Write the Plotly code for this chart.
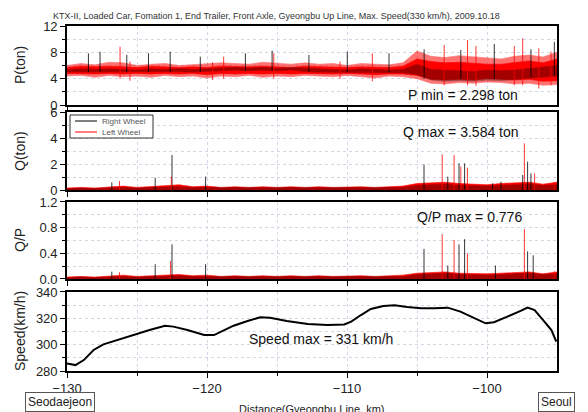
import plotly.graph_objects as go

# ---------------- data ----------------
KM = [-130, -129, -128, -127, -126, -125, -124, -123, -122, -121, -120, -119,
      -118, -117, -116, -115, -114, -113, -112, -111, -110, -109, -108, -107,
      -106, -105, -104, -103, -102, -101, -100, -99, -98, -97, -96, -95]

# P (ton) left wheel: outer and dense-core envelopes
P_LEFT_HI = [6.0, 6.3, 6.1, 6.5, 6.4, 6.0, 6.2, 6.3, 6.0, 6.1, 6.2, 6.4,
             6.3, 6.2, 6.5, 6.3, 6.2, 6.4, 6.2, 6.3, 6.0, 6.3, 6.2, 6.1,
             6.4, 8.2, 7.4, 7.2, 7.5, 7.3, 7.1, 7.0, 7.4, 7.6, 7.3, 8.0]
P_LEFT_LO = [4.4, 4.5, 4.2, 4.5, 4.3, 4.4, 4.2, 4.5, 4.3, 4.4, 4.1, 4.4,
             4.3, 4.5, 4.2, 4.4, 4.3, 4.5, 4.4, 4.3, 4.5, 4.3, 4.1, 4.4,
             4.3, 4.0, 3.3, 3.2, 3.4, 3.3, 3.5, 3.4, 3.2, 3.3, 3.0, 3.1]
P_LEFT_CORE_HI = [5.7, 5.9, 5.8, 5.9, 5.8, 5.7, 5.9, 5.8, 5.7, 5.8, 5.7, 5.9,
                  5.8, 5.8, 5.9, 5.8, 5.7, 5.9, 5.8, 5.7, 5.7, 5.8, 5.7, 5.7,
                  5.9, 7.0, 6.6, 6.4, 6.5, 6.3, 6.2, 6.2, 6.5, 6.7, 6.4, 7.0]
P_LEFT_CORE_LO = [4.8, 4.8, 4.7, 4.8, 4.7, 4.8, 4.7, 4.8, 4.7, 4.8, 4.6, 4.8,
                  4.7, 4.8, 4.7, 4.8, 4.7, 4.8, 4.8, 4.7, 4.8, 4.7, 4.6, 4.7,
                  4.7, 4.5, 3.9, 3.8, 3.9, 3.8, 4.0, 3.9, 3.8, 3.9, 3.6, 3.7]
# P (ton) right wheel
P_RIGHT_HI = [5.4, 5.5, 5.4, 5.5, 5.4, 5.3, 5.5, 5.4, 5.5, 5.4, 5.5, 5.6,
              5.7, 5.6, 5.7, 5.6, 5.7, 5.6, 5.5, 5.4, 5.3, 5.5, 5.4, 5.3,
              5.4, 6.2, 5.4, 5.3, 5.2, 5.1, 5.3, 5.2, 5.3, 5.5, 5.7, 6.0]
P_RIGHT_LO = [5.0, 5.1, 5.0, 5.1, 5.0, 5.0, 5.0, 5.1, 5.1, 5.0, 5.1, 5.2,
              5.3, 5.2, 5.3, 5.2, 5.3, 5.1, 5.0, 5.0, 4.9, 5.0, 4.9, 4.9,
              4.9, 4.6, 3.8, 3.6, 3.7, 3.6, 3.8, 3.7, 3.9, 4.0, 4.2, 4.4]

# P spikes (position km, low, high)
P_SPK_R_X = [-128.47, -127.64, -125.73, -124.18, -122.63, -120.48, -117.26, -115.35,
             -112.72, -109.98, -107.0, -104.49, -101.87, -99.48, -96.86, -95.19]
P_SPK_R_LO = [5.0, 5.0, 5.0, 5.0, 5.0, 5.0, 5.2, 5.2, 5.0, 5.0, 5.0, 4.0, 4.0, 4.0, 4.2, 4.4]
P_SPK_R_HI = [7.85, 8.10, 7.6, 7.85, 8.1, 7.34, 7.85, 8.26, 7.6, 8.1, 7.85, 8.46, 8.36, 9.27, 8.46, 9.6]
P_SPK_L_X = [-126.21, -125.5, -118.81, -119.6, -115.23, -108.19, -110.5, -103.06, -101.39,
             -100.79, -98.05, -97.45, -95.43, -96.3]
P_SPK_L_LO = [4.0, 3.7, 4.0, 3.8, 4.0, 3.6, 4.0, 3.0, 3.0, 2.9, 3.0, 3.0, 3.0, 2.5]
P_SPK_L_HI = [8.86, 6.6, 7.34, 6.5, 7.85, 7.85, 6.6, 9.1, 9.87, 8.96, 8.96, 10.13, 8.1, 8.6]

# Q (ton)
Q_LEFT_HI = [0.15, 0.2, 0.15, 0.25, 0.3, 0.2, 0.25, 0.3, 0.4, 0.25, 0.3, 0.2,
             0.25, 0.2, 0.25, 0.2, 0.25, 0.2, 0.25, 0.2, 0.25, 0.25, 0.2, 0.25,
             0.3, 0.5, 0.55, 0.6, 0.5, 0.45, 0.4, 0.5, 0.55, 0.6, 0.45, 0.6]
Q_RIGHT_HI = [0.1, 0.15, 0.1, 0.15, 0.2, 0.15, 0.2, 0.2, 0.25, 0.2, 0.2, 0.15,
              0.2, 0.15, 0.2, 0.15, 0.2, 0.15, 0.2, 0.15, 0.2, 0.2, 0.15, 0.2,
              0.2, 0.35, 0.4, 0.45, 0.35, 0.3, 0.3, 0.35, 0.4, 0.45, 0.35, 0.4]
Q_SPK_R_X = [-126.8, -123.7, -122.5, -120.1, -104.5, -102.8, -102.0, -101.6,
             -99.6, -99.0, -97.45, -97.1, -96.86]
Q_SPK_R_Y = [0.59, 0.95, 2.69, 1.03, 1.97, 1.03, 2.05, 2.05, 0.51, 0.64, 1.15, 2.18, 1.28]
Q_SPK_L_X = [-126.25, -122.55, -103.2, -102.35, -101.87, -101.4, -97.33, -96.6, -95.2]
Q_SPK_L_Y = [0.69, 1.03, 2.74, 2.69, 1.8, 1.72, 3.584, 1.28, 0.59]

# Q/P
QP_LEFT_HI = [0.03, 0.04, 0.03, 0.05, 0.06, 0.04, 0.05, 0.06, 0.07, 0.05, 0.06, 0.04,
              0.05, 0.04, 0.05, 0.04, 0.05, 0.04, 0.05, 0.04, 0.05, 0.05, 0.04, 0.05,
              0.06, 0.09, 0.10, 0.11, 0.09, 0.08, 0.08, 0.09, 0.10, 0.11, 0.08, 0.11]
QP_RIGHT_HI = [0.02, 0.03, 0.02, 0.03, 0.04, 0.03, 0.04, 0.04, 0.05, 0.04, 0.04, 0.03,
               0.04, 0.03, 0.04, 0.03, 0.04, 0.03, 0.04, 0.03, 0.04, 0.04, 0.03, 0.04,
               0.04, 0.07, 0.08, 0.09, 0.07, 0.06, 0.06, 0.07, 0.08, 0.09, 0.07, 0.08]
QP_SPK_R_X = [-126.8, -123.7, -122.5, -120.1, -104.5, -102.8, -102.0, -101.6,
              -99.4, -97.1, -96.7]
QP_SPK_R_Y = [0.114, 0.23, 0.54, 0.23, 0.47, 0.21, 0.54, 0.62, 0.21, 0.43, 0.37]
QP_SPK_L_X = [-126.25, -122.6, -103.2, -102.35, -101.4, -97.33, -95.2]
QP_SPK_L_Y = [0.104, 0.28, 0.70, 0.61, 0.40, 0.776, 0.12]

# Speed (km/h)
SPD_X = [-130.0, -129.4, -128.8, -128.1, -127.4, -126.4, -125.0, -124.1, -123.0,
         -122.4, -121.4, -120.2, -119.5, -119.0, -118.1, -117.1, -116.2, -115.5,
         -114.3, -112.8, -111.4, -110.2, -109.7, -109.0, -108.3, -107.4, -106.6,
         -105.7, -104.7, -103.8, -102.8, -101.9, -100.9, -100.1, -99.5, -98.5,
         -97.6, -97.1, -96.6, -95.9, -95.4, -95.05]
SPD_Y = [285.8, 284.5, 288.3, 296.0, 300.2, 303.5, 308.6, 311.1, 314.4,
         313.7, 311.1, 307.3, 307.3, 309.9, 314.4, 318.0, 320.8, 320.5,
         318.0, 315.7, 315.0, 315.4, 317.5, 322.5, 327.1, 329.4, 329.9,
         328.6, 327.6, 327.6, 328.1, 325.1, 320.0, 316.2, 317.0, 321.3,
         325.6, 328.1, 326.3, 317.5, 311.1, 302.3]

SERIES_NAMES = ["Right Wheel", "Left Wheel"]
TITLE = ("KTX-II, Loaded Car, Fomation 1, End Trailer, Front Axle, Gyeongbu Up Line, "
         "Max. Speed(330 km/h), 2009.10.18")

RED = "#ff0000"
BLACK = "#000000"

fig = go.Figure()


def band(x, lo, hi, color, xa, ya, opacity=1.0):
    fig.add_trace(go.Scatter(x=x + x[::-1], y=hi + lo[::-1], fill="toself",
                             fillcolor=color, line=dict(width=0.6, color=color),
                             opacity=opacity, mode="lines", hoverinfo="skip",
                             showlegend=False, xaxis=xa, yaxis=ya))


def spikes(xs, lo, hi, color, xa, ya, width=0.8):
    sx, sy = [], []
    for x, l, h in zip(xs, lo, hi):
        sx += [x, x, None]
        sy += [l, h, None]
    fig.add_trace(go.Scatter(x=sx, y=sy, mode="lines", line=dict(color=color, width=width),
                             showlegend=False, xaxis=xa, yaxis=ya, hoverinfo="skip"))


ZERO = [0] * len(KM)

# P panel
band(KM, P_LEFT_LO, P_LEFT_HI, RED, "x", "y", 0.55)
band(KM, P_LEFT_CORE_LO, P_LEFT_CORE_HI, RED, "x", "y", 1.0)
band(KM, P_RIGHT_LO, P_RIGHT_HI, BLACK, "x", "y", 0.35)
spikes(P_SPK_R_X, P_SPK_R_LO, P_SPK_R_HI, BLACK, "x", "y")
spikes(P_SPK_L_X, P_SPK_L_LO, P_SPK_L_HI, RED, "x", "y")

# Q panel
band(KM, ZERO, Q_LEFT_HI, RED, "x2", "y2")
band(KM, ZERO, Q_RIGHT_HI, BLACK, "x2", "y2", 0.35)
spikes(Q_SPK_R_X, [0] * len(Q_SPK_R_X), Q_SPK_R_Y, BLACK, "x2", "y2")
spikes(Q_SPK_L_X, [0] * len(Q_SPK_L_X), Q_SPK_L_Y, RED, "x2", "y2")

# Q/P panel
band(KM, ZERO, QP_LEFT_HI, RED, "x3", "y3")
band(KM, ZERO, QP_RIGHT_HI, BLACK, "x3", "y3", 0.35)
spikes(QP_SPK_R_X, [0] * len(QP_SPK_R_X), QP_SPK_R_Y, BLACK, "x3", "y3")
spikes(QP_SPK_L_X, [0] * len(QP_SPK_L_X), QP_SPK_L_Y, RED, "x3", "y3")

# Speed panel
fig.add_trace(go.Scatter(x=SPD_X, y=SPD_Y, mode="lines", line=dict(color=BLACK, width=2),
                         showlegend=False, xaxis="x4", yaxis="y4"))

GRID = "#d4d6e4"
FONT = "Liberation Sans, Arial, sans-serif"

domains = {
    1: [0.771, 1.0],
    2: [0.5246, 0.7507],
    3: [0.2667, 0.4899],
    4: [0.0, 0.229],
}
yspec = {
    1: dict(range=[0, 12], tickvals=[0, 4, 8, 12], minor_dtick=2),
    2: dict(range=[0, 6], tickvals=[0, 2, 4, 6], minor_dtick=1),
    3: dict(range=[0, 1.2], tickvals=[0, 0.4, 0.8, 1.2], minor_dtick=0.2),
    4: dict(range=[280, 340], tickvals=[280, 300, 320, 340], minor_dtick=10),
}

layout = dict(
    width=588, height=412,
    margin=dict(l=67, r=31, t=26, b=41),
    paper_bgcolor="white", plot_bgcolor="white",
    font=dict(family=FONT, size=13, color="#222"),
    showlegend=False,
)

for i in range(1, 5):
    xa = "xaxis" if i == 1 else f"xaxis{i}"
    ya = "yaxis" if i == 1 else f"yaxis{i}"
    layout[xa] = dict(
        domain=[0, 1], range=[-130, -95], anchor="y" if i == 1 else f"y{i}",
        tickvals=[-130, -120, -110, -100], showticklabels=(i == 4),
        ticks="outside", ticklen=5, tickwidth=1.2, tickcolor="black",
        showline=True, linecolor="black", linewidth=1.6, mirror=True,
        showgrid=True, gridcolor=GRID, griddash="dot", gridwidth=1,
        minor=dict(tickvals=[-125, -115, -105], ticks="outside", ticklen=3,
                   tickcolor="black", showgrid=True, gridcolor=GRID, griddash="dot"),
        zeroline=False, tickfont=dict(size=13),
    )
    s = yspec[i]
    layout[ya] = dict(
        domain=domains[i], range=s["range"], anchor="x" if i == 1 else f"x{i}",
        tickvals=s["tickvals"], tickformat=".1f" if i == 3 else None,
        ticks="outside", ticklen=5, tickwidth=1.2, tickcolor="black",
        showline=True, linecolor="black", linewidth=1.6, mirror=True,
        showgrid=True, gridcolor=GRID, griddash="dot", gridwidth=1,
        minor=dict(dtick=s["minor_dtick"], ticks="outside", ticklen=3,
                   tickcolor="black", showgrid=True, gridcolor=GRID, griddash="dot"),
        zeroline=False, tickfont=dict(size=13),
    )

fig.update_layout(**layout)


def py2p(py):
    return (371 - py) / 345.0


def px2p(px):
    return (px - 67) / 490.0


def text(label, px, py, size, color="#222", **kw):
    d = dict(text=label, x=px2p(px), y=py2p(py), xref="paper", yref="paper",
             showarrow=False, xanchor="center", yanchor="middle",
             font=dict(size=size, color=color, family=FONT))
    d.update(kw)
    return d


ann = [text(TITLE, 276, 16, 9, "#333")]
for label, py in [("P(ton)", 65), ("Q(ton)", 151), ("Q/P", 240), ("Speed(km/h)", 331)]:
    ann.append(text(label, 20, py, 14, textangle=-90))
for label, px, py in [("P min = 2.298 ton", 463, 95), ("Q max = 3.584 ton", 461, 132),
                      ("Q/P max = 0.776", 469, 217), ("Speed max = 331 km/h", 321, 339)]:
    ann.append(text(label, px, py, 14, "#111"))
for label, px in [("Seodaejeon", 60, ), ("Seoul", 556)]:
    ann.append(text(label, px, 402, 12, bordercolor="#555", borderwidth=1,
                    borderpad=2, bgcolor="white"))
ann.append(text("Distance(Gyeongbu Line, km)", 312, 409, 11))

# legend (drawn as a small framed key inside the Q panel)
ann.append(text(SERIES_NAMES[0], 100, 121, 8, "#555", xanchor="left"))
ann.append(text(SERIES_NAMES[1], 100, 132, 8, "#555", xanchor="left"))
shapes = [
    dict(type="rect", xref="paper", yref="paper", x0=px2p(70), x1=px2p(153),
         y0=py2p(138), y1=py2p(115), line=dict(color="#333", width=1),
         fillcolor="white", layer="above"),
    dict(type="line", xref="paper", yref="paper", x0=px2p(75), x1=px2p(97),
         y0=py2p(121), y1=py2p(121), line=dict(color=BLACK, width=1)),
    dict(type="line", xref="paper", yref="paper", x0=px2p(75), x1=px2p(97),
         y0=py2p(132), y1=py2p(132), line=dict(color=RED, width=1)),
]
fig.update_layout(annotations=ann, shapes=shapes)

fig.write_html("out.html")
